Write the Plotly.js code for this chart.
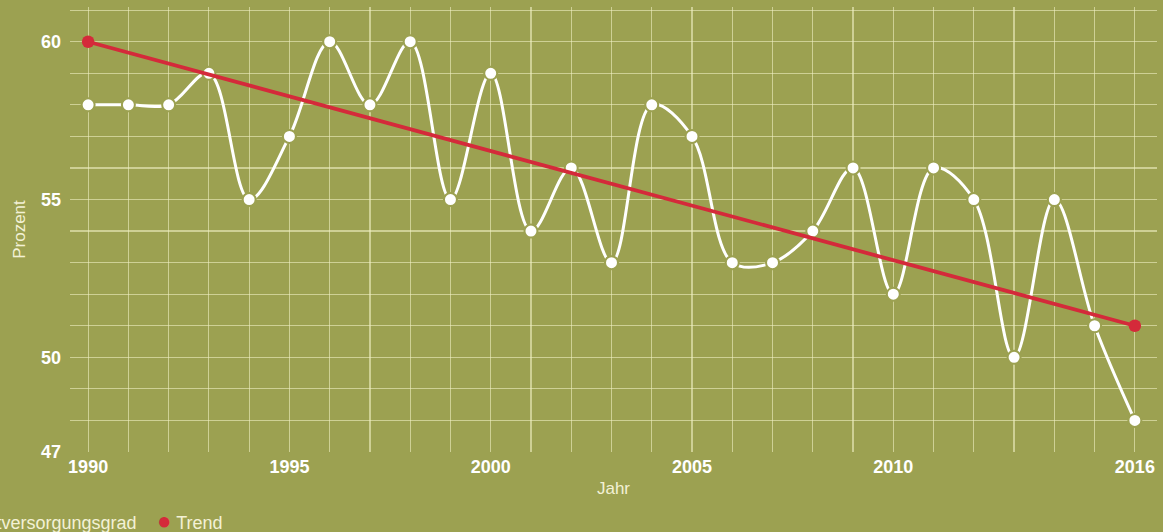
<!DOCTYPE html>
<html>
<head>
<meta charset="utf-8">
<script src="https://cdn.plot.ly/plotly-3.0.1.min.js"></script>
<style>
html,body{margin:0;padding:0;background:#9ca151;}
#chart{width:1163px;height:532px;}
</style>
</head>
<body>
<div id="chart"></div>
<script>
const years = [1990,1991,1992,1993,1994,1995,1996,1997,1998,1999,2000,2001,2002,2003,2004,2005,2006,2007,2008,2009,2010,2011,2012,2013,2014,2015,2016];
const selbstversorgungsgrad = [58,58,58,59,55,57,60,58,60,55,59,54,56,53,58,57,53,53,54,56,52,56,55,50,55,51,48];
const trendYears = [1990, 2016];
const trendValues = [60, 51];
const xTickVals = years;
const xTickText = years.map(y => [1990,1995,2000,2005,2010,2016].includes(y) ? String(y) : '');
const yTickVals = [47,48,49,50,51,52,53,54,55,56,57,58,59,60,61];
const yTickText = yTickVals.map(v => [47,50,55,60].includes(v) ? String(v) : '');
const seriesNames = ['Selbstversorgungsgrad', 'Trend'];

const bg = '#9ca151';
const red = '#d42a3a';
const grid = 'rgba(240,240,195,0.6)';

const traces = [
  {
    x: years, y: selbstversorgungsgrad, name: seriesNames[0],
    type: 'scatter', mode: 'lines+markers',
    line: {color: '#ffffff', width: 3, shape: 'spline', smoothing: 1},
    marker: {color: '#ffffff', size: 13, line: {color: bg, width: 2}},
    showlegend: false, cliponaxis: false
  },
  {
    x: trendYears, y: trendValues, name: seriesNames[1],
    type: 'scatter', mode: 'lines+markers',
    line: {color: red, width: 3.8},
    marker: {color: red, size: 12.5},
    showlegend: false, cliponaxis: false
  }
];

const layout = {
  width: 1163, height: 532,
  paper_bgcolor: bg, plot_bgcolor: bg,
  margin: {l: 70, r: 6, t: 7, b: 80, pad: 0},
  font: {family: 'Liberation Sans, Arial, sans-serif', color: '#ffffff'},
  xaxis: {
    range: [1989.55, 2016.55],
    tickmode: 'array', tickvals: xTickVals, ticktext: xTickText,
    showgrid: true, gridcolor: grid, gridwidth: 1.2,
    zeroline: false, showline: false, ticks: '',
    tickfont: {size: 18, color: '#ffffff', weight: 'bold'},
    ticklabelstandoff: 2,
    title: {text: 'Jahr', font: {size: 17, color: '#f3f1d6'}, standoff: 6}
  },
  yaxis: {
    range: [47, 61.1],
    tickmode: 'array', tickvals: yTickVals, ticktext: yTickText,
    showgrid: true, gridcolor: grid, gridwidth: 1.2,
    zeroline: false, showline: false, ticks: '',
    tickfont: {size: 18, color: '#ffffff', weight: 'bold'},
    ticklabelstandoff: 8,
    title: {text: 'Prozent', font: {size: 17, color: '#f3f1d6'}, standoff: 11}
  },
  annotations: [
    {
      xref: 'paper', yref: 'paper', x: (139 - 70) / 1087, y: -0.155,
      xanchor: 'right', yanchor: 'middle', showarrow: false,
      text: '<span style="font-size:24px">●</span> ' + seriesNames[0],
      font: {size: 18, color: '#f3f1d6'}
    },
    {
      xref: 'paper', yref: 'paper', x: (155 - 70) / 1087, y: -0.155,
      xanchor: 'left', yanchor: 'middle', showarrow: false,
      text: '<span style="color:' + red + ';font-size:24px">●</span> ' + seriesNames[1],
      font: {size: 18, color: '#f3f1d6'}
    }
  ]
};

Plotly.newPlot('chart', traces, layout, {displayModeBar: false, staticPlot: true});
</script>
</body>
</html>
